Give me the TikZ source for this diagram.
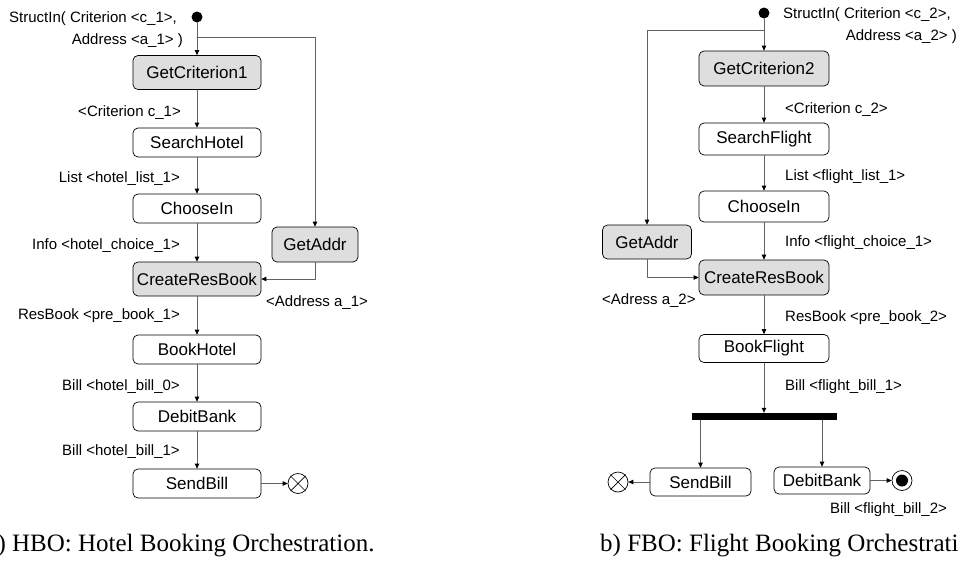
\documentclass[tikz,border=0pt]{standalone}
\usepackage{fontspec}
\newfontfamily\actfont{Liberation Sans}
\newfontfamily\capfont{Liberation Serif}
\usetikzlibrary{arrows.meta,positioning,calc}

\begin{document}
\begin{tikzpicture}[x=1pt,y=-1pt,line cap=round,line join=round,
  act/.style={draw=black,rounded corners=5pt,line width=0.7pt,fill=white,
    font=\actfont\fontsize{17}{20}\selectfont,inner sep=0pt,
    minimum width=128pt,minimum height=29pt},
  actg/.style={act,fill=black!13,minimum height=34pt},
  lab/.style={font=\actfont\fontsize{15}{18}\selectfont,inner sep=0pt},
  flow/.style={draw=black!62,line width=0.8pt,-{Triangle[length=5pt,width=4.5pt,black]}},
  dot/.style={circle,fill=black,minimum size=11pt,inner sep=0pt},
  stopc/.style={circle,draw=black,line width=0.7pt,minimum size=20pt,inner sep=0pt},
  capt/.style={anchor=base west,font=\capfont\fontsize{25}{29}\selectfont,inner sep=0pt}]
\useasboundingbox (0,0) rectangle (959,563);
\clip (0,0) rectangle (959,563);

%% a) hotel booking
\node[dot] (in1) at (197,17) {};
\node[actg] (gc1) at (197,72.5) {GetCriterion1};
\node[act] (sh) at (197,142.5) {SearchHotel};
\node[act] (ch1) at (197,208.5) {ChooseIn};
\node[actg,minimum width=86pt,minimum height=35pt] (ga1) at (315,244.5) {GetAddr};
\node[actg] (crb1) at (197,279) {CreateResBook};
\node[act] (bh) at (197,349.5) {BookHotel};
\node[act] (db1) at (197,416.5) {DebitBank};
\node[act] (sb1) at (197,483.5) {SendBill};
\node[stopc] (x1) at (298,483.5) {};
\draw[line width=0.7pt] (x1.north west) -- (x1.south east) (x1.north east) -- (x1.south west);
\coordinate (br1) at (197,37);

\draw[flow] (in1) -- (gc1);
\draw[flow] (br1) -| (ga1.north);
\draw[flow] (ga1.south) |- (crb1.east);
\foreach \a/\b in {gc1/sh,sh/ch1,ch1/crb1,crb1/bh,bh/db1,db1/sb1,sb1/x1}
  \draw[flow] (\a) -- (\b);

\node[lab,anchor=east] (s1a) at (177,19) {StructIn( Criterion <c\_1>,};
\node[lab,anchor=east] (s1b) at (183,41) {Address <a\_1> )};
\node[lab,anchor=east] (e1) at (181,113) {<Criterion c\_1>};
\node[lab,anchor=east] (e2) at (180,179) {List <hotel\_list\_1>};
\node[lab,anchor=east] (e3) at (180,246) {Info <hotel\_choice\_1>};
\node[lab,anchor=west] (e4) at (266,303) {<Address a\_1>};
\node[lab,anchor=east] (e5) at (180,316) {ResBook <pre\_book\_1>};
\node[lab,anchor=east] (e6) at (180,387) {Bill <hotel\_bill\_0>};
\node[lab,anchor=east] (e7) at (180,452) {Bill <hotel\_bill\_1>};

%% b) flight booking
\node[dot] (in2) at (764,13) {};
\node[actg,minimum width=130pt,minimum height=35pt] (gc2) at (764,68.5) {GetCriterion2};
\node[act,minimum width=130pt,minimum height=32pt] (sf) at (764,139) {SearchFlight};
\node[act,minimum width=130pt,minimum height=31pt] (ch2) at (764,206.5) {ChooseIn};
\node[actg,minimum width=89pt] (ga2) at (647,242) {GetAddr};
\node[actg,minimum width=130pt,minimum height=35pt] (crb2) at (764,277.5) {CreateResBook};
\node[act,minimum width=130pt,minimum height=28pt] (bf) at (764,348.5) {BookFlight};
\node[fill=black,minimum width=145pt,minimum height=7pt,inner sep=0pt] (fork) at (764,416.5) {};
\node[act,minimum width=101pt,minimum height=28pt] (sb2) at (700.5,482) {SendBill};
\node[act,minimum width=96pt,minimum height=27pt] (db2) at (822,480.5) {DebitBank};
\node[stopc] (x2) at (618,482) {};
\draw[line width=0.7pt] (x2.north west) -- (x2.south east) (x2.north east) -- (x2.south west);
\node[stopc] (fin) at (902,480.5) {};
\fill (fin.center) circle (6pt);
\coordinate (br2) at (764,30);

\draw[flow] (in2) -- (gc2);
\draw[flow] (br2) -| (ga2.north);
\draw[flow] (ga2.south) |- (crb2.west);
\foreach \a/\b in {gc2/sf,sf/ch2,ch2/crb2,crb2/bf}
  \draw[flow] (\a) -- (\b);
\draw[flow] (bf) -- (fork.north);
\draw[flow] (fork.south -| sb2) -- (sb2);
\draw[flow] (fork.south -| db2) -- (db2);
\draw[flow] (sb2) -- (x2);
\draw[flow] (db2) -- (fin);

\node[lab,anchor=west] (s2a) at (783,15) {StructIn( Criterion <c\_2>,};
\node[lab,anchor=east] (s2b) at (957,37) {Address <a\_2> )};
\node[lab,anchor=west] (f1) at (785,110) {<Criterion c\_2>};
\node[lab,anchor=west] (f2) at (785,177) {List <flight\_list\_1>};
\node[lab,anchor=west] (f3) at (785,243) {Info <flight\_choice\_1>};
\node[lab,anchor=west] (f4) at (602,301) {<Adress a\_2>};
\node[lab,anchor=west] (f5) at (785,318) {ResBook <pre\_book\_2>};
\node[lab,anchor=west] (f6) at (785,387) {Bill <flight\_bill\_1>};
\node[lab,anchor=west] (f7) at (830,510) {Bill <flight\_bill\_2>};

%% captions
\node[capt] (capa) at (-13.7,551) {a) HBO: Hotel Booking Orchestration.};
\node[capt] (capb) at (600,551) {b) FBO: Flight Booking Orchestration.};
\end{tikzpicture}
\end{document}
